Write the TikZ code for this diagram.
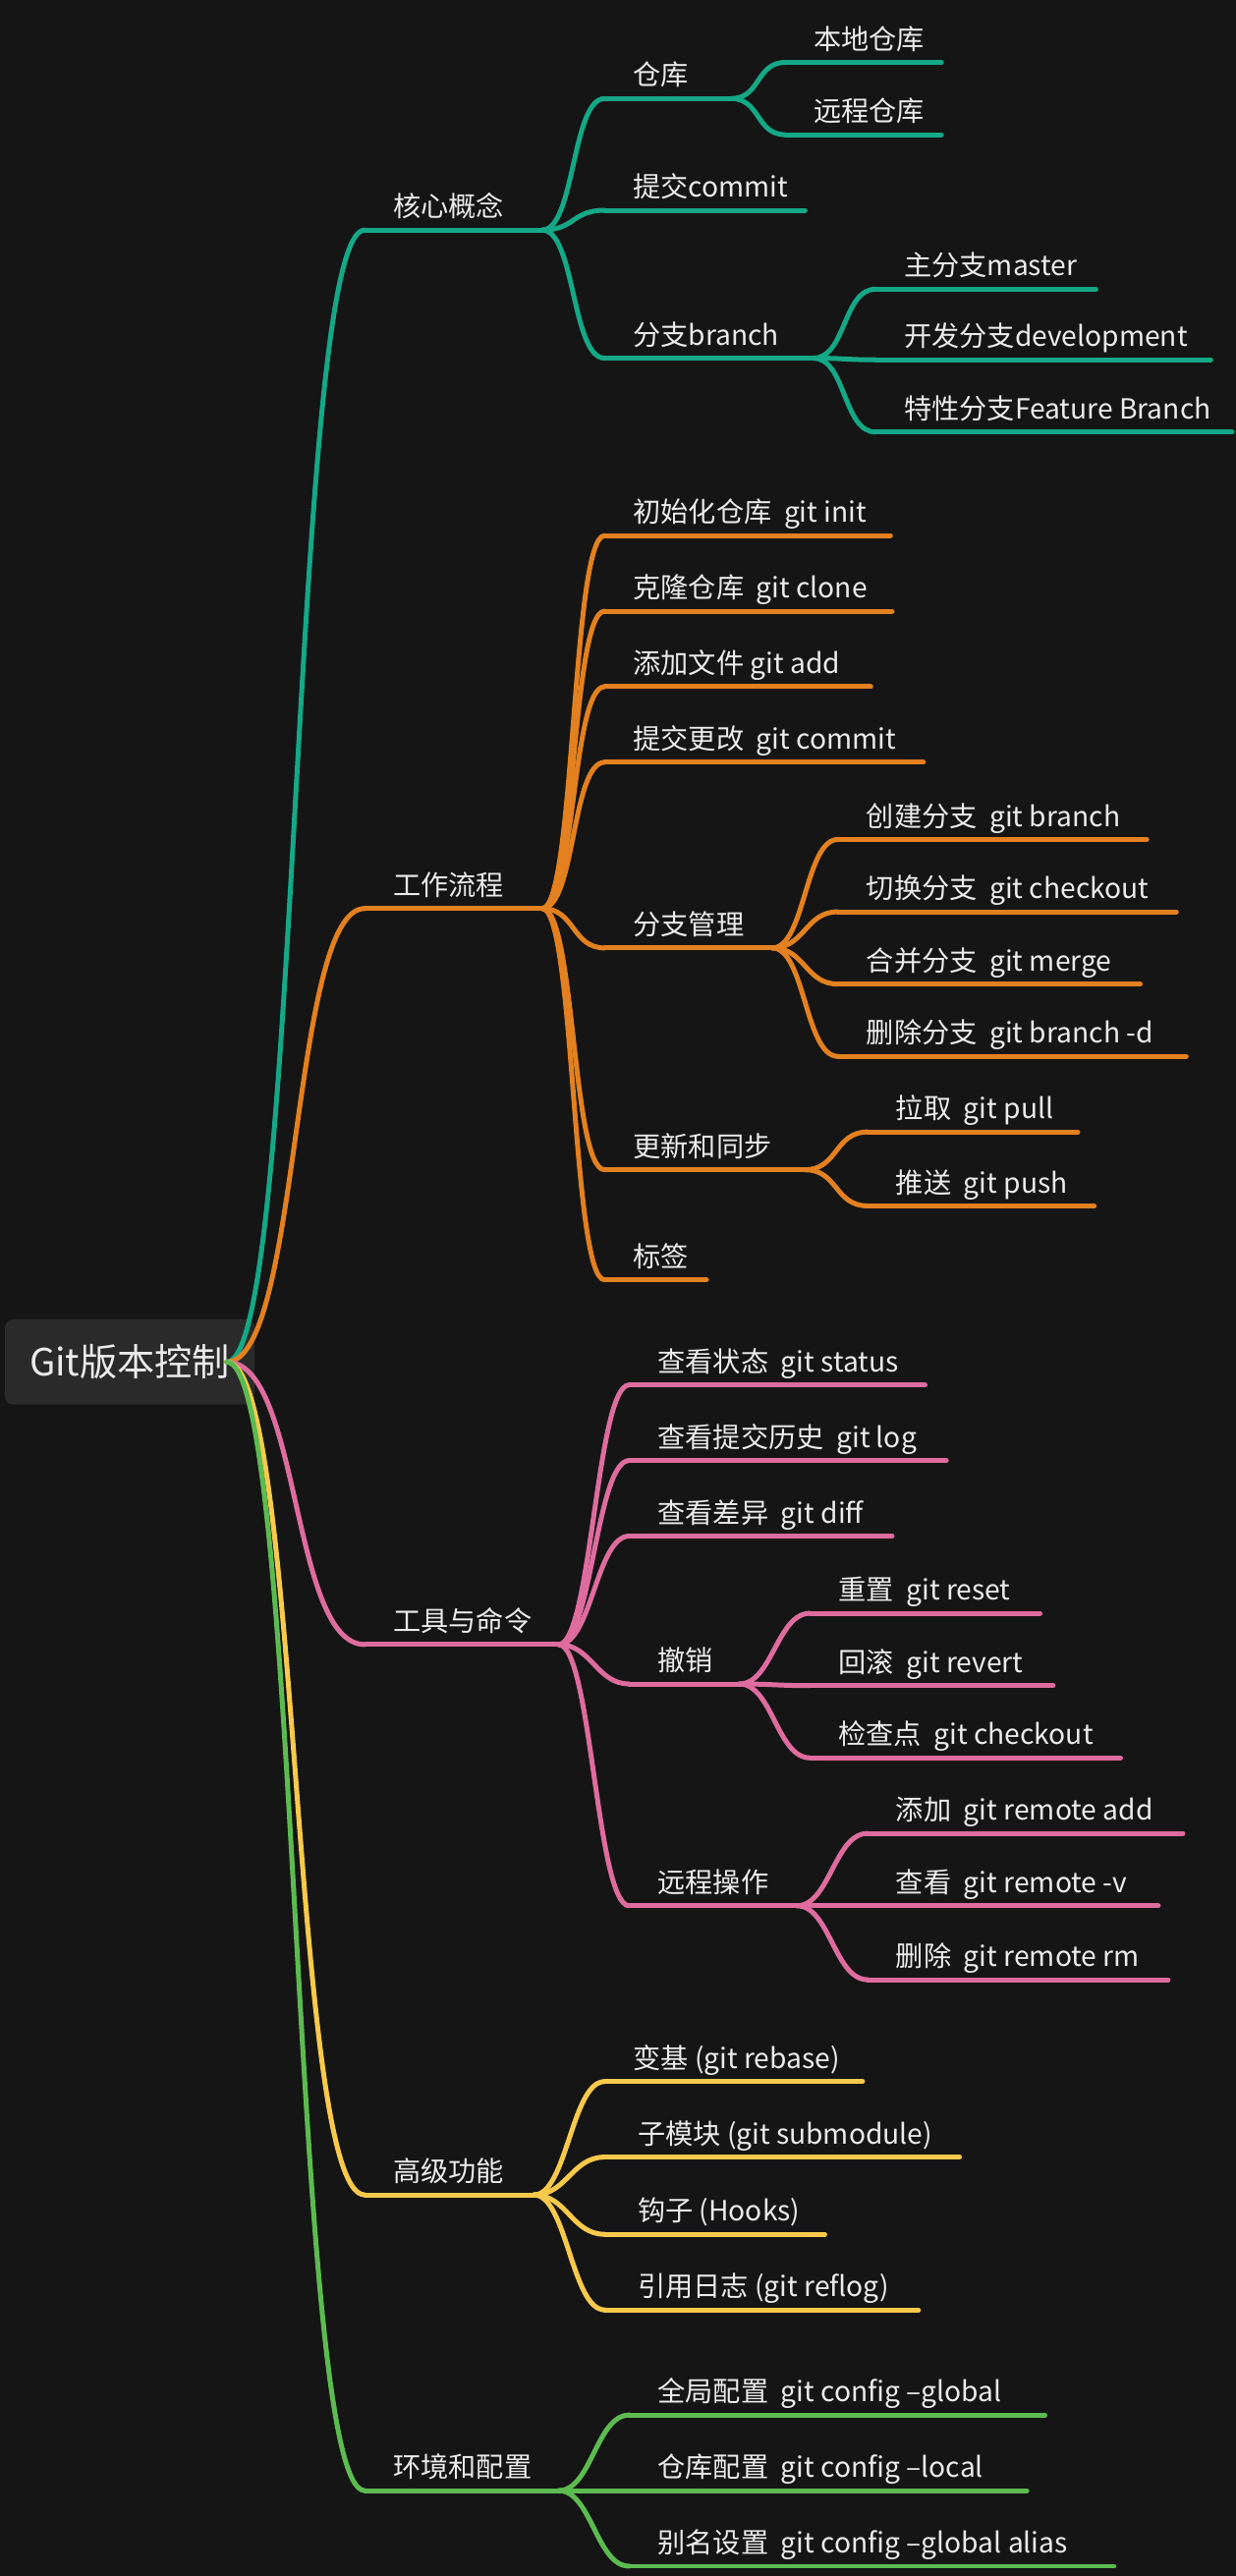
\documentclass[tikz,border=0pt]{standalone}
\usepackage{fontspec}
\setmainfont{Noto Sans CJK SC}
\usetikzlibrary{positioning}

\definecolor{bg}{HTML}{151515}
\definecolor{rootbg}{HTML}{2A2A2A}
\definecolor{cteal}{HTML}{14A886}
\definecolor{corange}{HTML}{E3801F}
\definecolor{cpink}{HTML}{DE6C9E}
\definecolor{cyellow}{HTML}{F8C94A}
\definecolor{cgreen}{HTML}{5CBB50}

\tikzset{
  line/.style={line width=1.7pt, line cap=round},
  lbl/.style={text=white!92!black, font=\fontsize{9.6}{11}\selectfont, inner sep=0pt}
}

% name, colour, x start, x end, y, text
\newcommand{\leaf}[6]{%
  \coordinate (#1-s) at (#3,-#5);
  \coordinate (#1-e) at (#4,-#5);
  \draw[line,#2] (#1-s) -- (#1-e);
  \node[lbl, anchor=base west] (#1) at (#3+17,-#5+8) {#6};
}
% colour, parent, child, bend
\newcommand{\link}[4]{\draw[line,#1] (#2-e) .. controls +(#4,0) and +(-#4,0) .. (#3-s);}

\begin{document}
\begin{tikzpicture}[x=0.02cm,y=0.02cm]
\fill[bg] (0,0) rectangle (752,-1568);
\useasboundingbox (0,0) rectangle (752,-1568);

\fill[rootbg, rounded corners=3pt] (3,-803) rectangle (155,-855);
\node[lbl, font=\fontsize{13}{15}\selectfont] (root) at (79,-829) {Git版本控制};
\coordinate (root-e) at (138,-829);

% core concepts
\leaf{core}{cteal}{222}{330}{140}{核心概念}
\leaf{repo}{cteal}{368}{445}{60}{仓库}
\leaf{local}{cteal}{478}{573}{38}{本地仓库}
\leaf{remote}{cteal}{478}{573}{82}{远程仓库}
\leaf{commit}{cteal}{368}{490}{128}{提交commit}
\leaf{branch}{cteal}{368}{495}{218}{分支branch}
\leaf{master}{cteal}{533}{667}{176}{主分支master}
\leaf{dev}{cteal}{533}{737}{219}{开发分支development}
\leaf{feat}{cteal}{533}{750}{263}{特性分支Feature Branch}
\link{cteal}{root}{core}{45}
\link{cteal}{core}{repo}{20}
\link{cteal}{core}{commit}{20}
\link{cteal}{core}{branch}{20}
\link{cteal}{repo}{local}{18}
\link{cteal}{repo}{remote}{18}
\link{cteal}{branch}{master}{20}
\link{cteal}{branch}{dev}{20}
\link{cteal}{branch}{feat}{20}

% workflow
\leaf{flow}{corange}{222}{330}{553}{工作流程}
\leaf{init}{corange}{368}{542}{326}{初始化仓库\ \ git init}
\leaf{clone}{corange}{368}{543}{372}{克隆仓库\ \ git clone}
\leaf{add}{corange}{368}{530}{418}{添加文件 git add}
\leaf{ci}{corange}{368}{562}{464}{提交更改\ \ git commit}
\leaf{bmgr}{corange}{368}{470}{577}{分支管理}
\leaf{bnew}{corange}{510}{698}{511}{创建分支\ \ git branch}
\leaf{bsw}{corange}{510}{716}{555}{切换分支\ \ git checkout}
\leaf{bmrg}{corange}{510}{694}{599}{合并分支\ \ git merge}
\leaf{bdel}{corange}{510}{722}{643}{删除分支\ \ git branch -d}
\leaf{sync}{corange}{368}{490}{712}{更新和同步}
\leaf{pull}{corange}{528}{656}{689}{拉取\ \ git pull}
\leaf{push}{corange}{528}{666}{734}{推送\ \ git push}
\leaf{tag}{corange}{368}{430}{779}{标签}
\link{corange}{root}{flow}{45}
\foreach \c in {init,clone,add,ci,bmgr,sync,tag} {\link{corange}{flow}{\c}{20}}
\foreach \c in {bnew,bsw,bmrg,bdel} {\link{corange}{bmgr}{\c}{20}}
\foreach \c in {pull,push} {\link{corange}{sync}{\c}{20}}

% tools
\leaf{tools}{cpink}{222}{340}{1001}{工具与命令}
\leaf{status}{cpink}{383}{563}{843}{查看状态\ \ git status}
\leaf{log}{cpink}{383}{576}{889}{查看提交历史\ \ git log}
\leaf{diff}{cpink}{383}{543}{935}{查看差异\ \ git diff}
\leaf{undo}{cpink}{383}{450}{1025}{撤销}
\leaf{reset}{cpink}{493}{633}{982}{重置\ \ git reset}
\leaf{revert}{cpink}{493}{641}{1026}{回滚\ \ git revert}
\leaf{chk}{cpink}{493}{682}{1070}{检查点\ \ git checkout}
\leaf{rops}{cpink}{383}{485}{1160}{远程操作}
\leaf{radd}{cpink}{528}{720}{1116}{添加\ \ git remote add}
\leaf{rv}{cpink}{528}{705}{1160}{查看\ \ git remote -v}
\leaf{rrm}{cpink}{528}{711}{1205}{删除\ \ git remote rm}
\link{cpink}{root}{tools}{45}
\foreach \c in {status,log,diff,undo,rops} {\link{cpink}{tools}{\c}{20}}
\foreach \c in {reset,revert,chk} {\link{cpink}{undo}{\c}{20}}
\foreach \c in {radd,rv,rrm} {\link{cpink}{rops}{\c}{20}}

% advanced
\leaf{adv}{cyellow}{222}{325}{1336}{高级功能}
\leaf{rebase}{cyellow}{368}{525}{1267}{变基 (git rebase)}
\leaf{sub}{cyellow}{368}{584}{1313}{\,子模块 (git submodule)}
\leaf{hooks}{cyellow}{368}{502}{1360}{\,钩子 (Hooks)}
\leaf{reflog}{cyellow}{368}{559}{1406}{\,引用日志 (git reflog)}
\link{cyellow}{root}{adv}{45}
\foreach \c in {rebase,sub,hooks,reflog} {\link{cyellow}{adv}{\c}{20}}

% config
\leaf{env}{cgreen}{222}{340}{1516}{环境和配置}
\leaf{glob}{cgreen}{383}{636}{1470}{全局配置\ \ git config --global}
\leaf{loc}{cgreen}{383}{625}{1516}{仓库配置\ \ git config --local}
\leaf{alias}{cgreen}{383}{678}{1562}{别名设置\ \ git config --global alias}
\link{cgreen}{root}{env}{45}
\foreach \c in {glob,loc,alias} {\link{cgreen}{env}{\c}{20}}
\end{tikzpicture}
\end{document}
